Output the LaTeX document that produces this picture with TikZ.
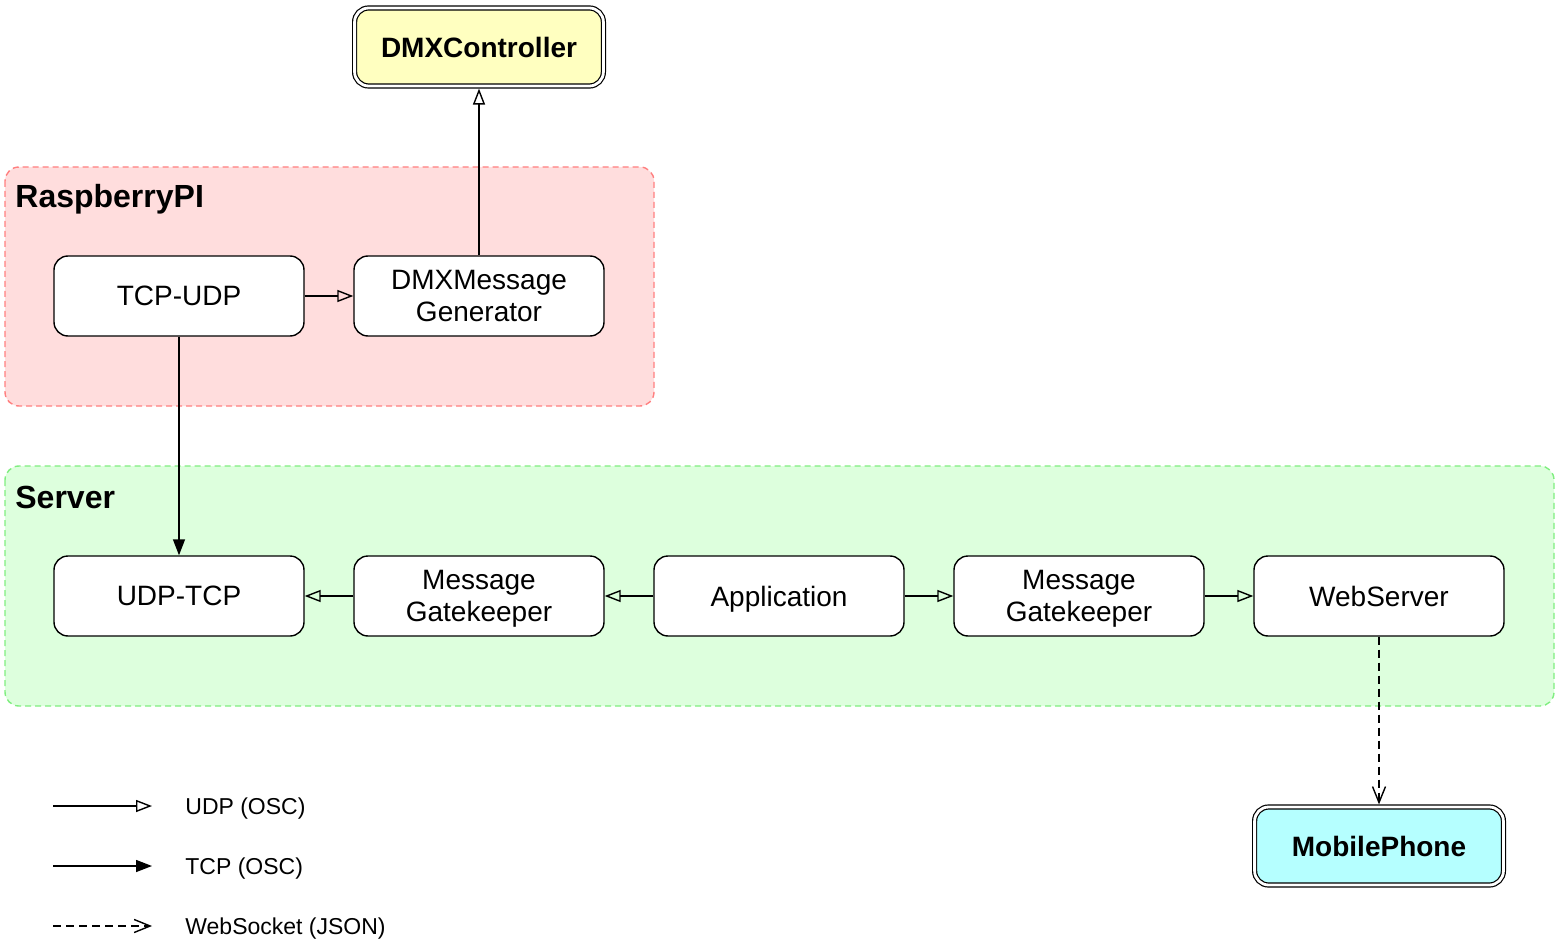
\documentclass[tikz,border=0pt]{standalone}
\usepackage{fontspec}
\setmainfont{Liberation Sans}
\usetikzlibrary{arrows.meta}
\definecolor{rpifill}{RGB}{255,221,221}
\definecolor{rpiline}{RGB}{255,128,128}
\definecolor{srvfill}{RGB}{221,255,221}
\definecolor{srvline}{RGB}{128,238,128}
\definecolor{dmxfill}{RGB}{255,255,192}
\definecolor{phonefill}{RGB}{181,255,255}
\begin{document}
\begin{tikzpicture}[x=0.5pt,y=-0.5pt,
	box/.style={draw,line width=0.7pt,rounded corners=7pt,fill=white,minimum width=125pt,minimum height=40pt,align=center,text depth=0pt,font=\fontsize{14pt}{16pt}\selectfont},
	endbox/.style={draw,line width=0.6pt,double=white,double distance=1.4pt,rounded corners=7pt,minimum width=124.4pt,minimum height=39pt,outer sep=1.3pt,font=\bfseries\fontsize{14pt}{16pt}\selectfont},
	group/.style={line width=0.7pt,dash pattern=on 3pt off 2pt,rounded corners=7pt},
	grouplabel/.style={anchor=base west,inner sep=0pt,font=\bfseries\fontsize{16pt}{19pt}\selectfont},
	udp/.style={line width=0.7pt,-{Triangle[open,length=8pt,width=6pt]}},
	tcp/.style={line width=0.7pt,-{Triangle[length=8pt,width=6pt]}},
	ws/.style={line width=0.7pt,dash pattern=on 4pt off 2.5pt,-{Straight Barb[length=8pt,width=6.5pt]}},
	legend/.style={anchor=base west,inner sep=0pt,font=\fontsize{11.5pt}{14pt}\selectfont}]
\useasboundingbox (0,0) rectangle (1558,952);
\draw[group,draw=rpiline,fill=rpifill] (5,167) rectangle (654,406);
\draw[group,draw=srvline,fill=srvfill] (5,466) rectangle (1554,706);
\node[grouplabel] (rpi) at (15,208) {RaspberryPI};
\node[grouplabel] (srv) at (15,508) {Server};

\node[endbox,fill=dmxfill] (dmx) at (479,47) {DMXController};
\node[box] (tcpudp) at (179,296) {TCP-UDP};
\node[box] (gen) at (479,296) {DMXMessage\\Generator};
\foreach \n/\x/\t in {udptcp/179/UDP-TCP, gate1/479/{Message\\Gatekeeper}, app/779/Application, gate2/1079/{Message\\Gatekeeper}, web/1379/WebServer}
	\node[box] (\n) at (\x,596) {\t};
\node[endbox,fill=phonefill] (phone) at (1379,846) {MobilePhone};

\draw[udp] (tcpudp) -- (gen);
\draw[udp] (gen) -- (dmx);
\draw[tcp] (tcpudp) -- (udptcp);
\draw[udp] (gate1) -- (udptcp);
\draw[udp] (app) -- (gate1);
\draw[udp] (app) -- (gate2);
\draw[udp] (gate2) -- (web);
\draw[ws] (web) -- (phone);

\foreach \i/\s/\t in {1/udp/UDP (OSC), 2/tcp/TCP (OSC), 3/ws/WebSocket (JSON)} {
	\coordinate (a\i) at (53,746+60*\i);
	\coordinate (b\i) at (152,746+60*\i);
	\draw[\s] (a\i) -- (b\i);
	\node[legend] (t\i) at (185,754+60*\i) {\t};
}
\end{tikzpicture}
\end{document}
